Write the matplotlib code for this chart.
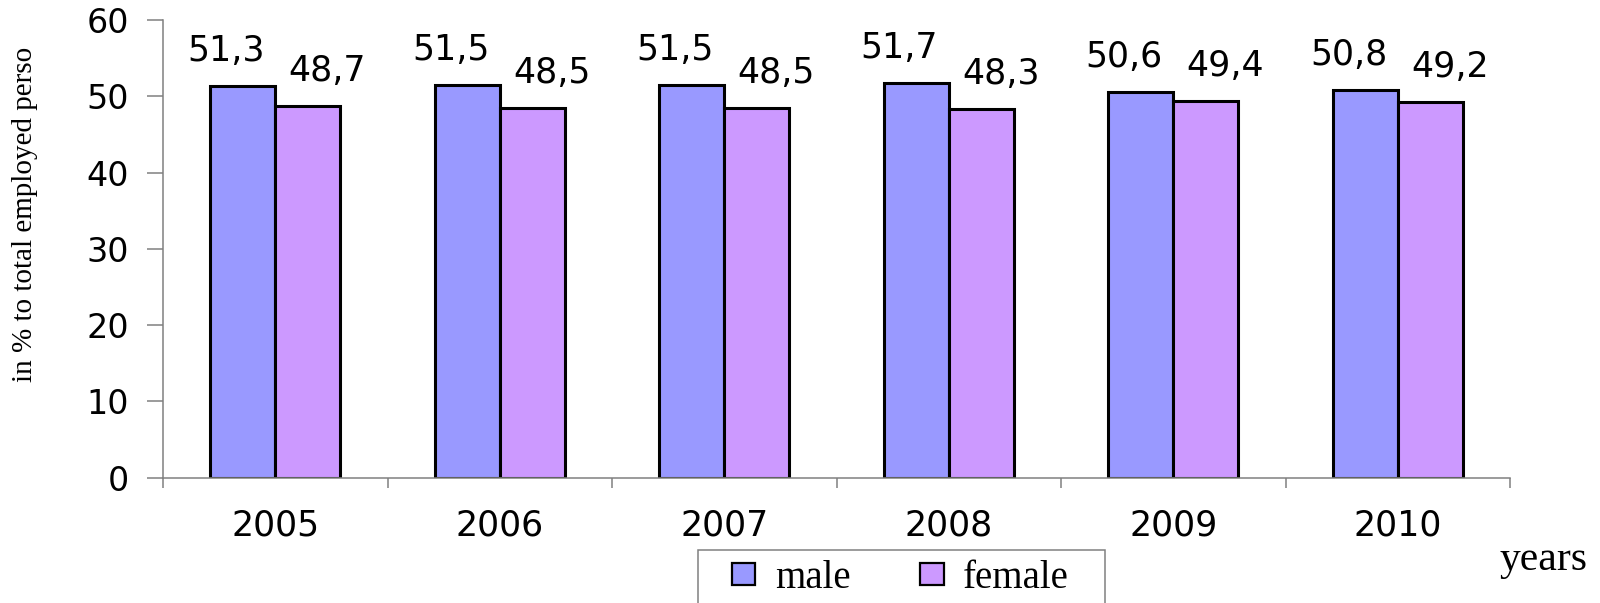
import numpy as np
import matplotlib
matplotlib.use('Agg')
import matplotlib.pyplot as plt
from matplotlib.patches import Patch, Rectangle

years = ['2005', '2006', '2007', '2008', '2009', '2010']
male = [51.3, 51.5, 51.5, 51.7, 50.6, 50.8]
female = [48.7, 48.5, 48.5, 48.3, 49.4, 49.2]
value_labels_male = ['51,3', '51,5', '51,5', '51,7', '50,6', '50,8']
value_labels_female = ['48,7', '48,5', '48,5', '48,3', '49,4', '49,2']

MALE_COLOR = '#9999FF'
FEMALE_COLOR = '#CC99FF'
AXIS_GRAY = '#808080'

W, H = 1600, 603
fig = plt.figure(figsize=(W / 100, H / 100), dpi=100)
ax = fig.add_axes([163 / W, 1 - 477.7 / H, (1510 - 163) / W, (477.7 - 20) / H])

x = np.arange(len(years))
bar_w = 0.29
ax.bar(x - bar_w / 2, male, bar_w, color=MALE_COLOR, edgecolor='black', linewidth=2.2)
ax.bar(x + bar_w / 2, female, bar_w, color=FEMALE_COLOR, edgecolor='black', linewidth=2.2)

# value labels above each bar
for i in range(len(years)):
    ax.annotate(value_labels_male[i], (x[i] - bar_w / 2, male[i]), xytext=(-12, 18),
                textcoords='offset points', ha='center', va='baseline',
                fontsize=25, family='DejaVu Sans')
    ax.annotate(value_labels_female[i], (x[i] + bar_w / 2, female[i]), xytext=(14, 18),
                textcoords='offset points', ha='center', va='baseline',
                fontsize=25, family='DejaVu Sans')

ax.set_xlim(-0.5, len(years) - 0.5)
ax.set_ylim(0, 60)
ax.set_yticks(np.arange(0, 61, 10))
ax.set_xticks(x)
ax.set_xticklabels(years, fontsize=25, family='DejaVu Sans')
ax.set_xticks(np.arange(-0.5, len(years), 1), minor=True)
ax.tick_params(axis='x', which='major', length=0, pad=22)
ax.tick_params(axis='x', which='minor', length=7.5, width=1.1, color=AXIS_GRAY, direction='out')
ax.tick_params(axis='y', length=11.5, width=1.1, color=AXIS_GRAY, pad=13, labelsize=24)
for lab in ax.get_yticklabels():
    lab.set_family('DejaVu Sans')

for side in ['top', 'right']:
    ax.spines[side].set_visible(False)
for side in ['left', 'bottom']:
    ax.spines[side].set_color(AXIS_GRAY)
    ax.spines[side].set_linewidth(1.1)

fig.text(25 / W, 1 - 214 / H, 'in % to total employed perso', rotation=90,
         ha='center', va='center', fontsize=21, family='Liberation Serif')
fig.text(1500 / W, 1 - 570 / H, 'years', ha='left', va='baseline',
         fontsize=30, family='Liberation Serif')

# legend frame runs off the bottom edge
fig.patches.append(Rectangle((698 / W, -0.05), (1105 - 698) / W, 0.05 + 1 - 550 / H,
                             transform=fig.transFigure, fill=False,
                             edgecolor=AXIS_GRAY, linewidth=1.1))
handles = [Patch(facecolor=MALE_COLOR, edgecolor='black', linewidth=1.6, label='male'),
           Patch(facecolor=FEMALE_COLOR, edgecolor='black', linewidth=1.6, label='female')]
fig.legend(handles=handles, loc='center left', bbox_to_anchor=(732 / W, 1 - 578 / H),
           ncol=2, frameon=False, borderpad=0, borderaxespad=0,
           handlelength=0.6, handleheight=0.48, handletextpad=0.5, columnspacing=1.8,
           prop={'family': 'Liberation Serif', 'size': 28})

fig.savefig('out.png', dpi=100)
